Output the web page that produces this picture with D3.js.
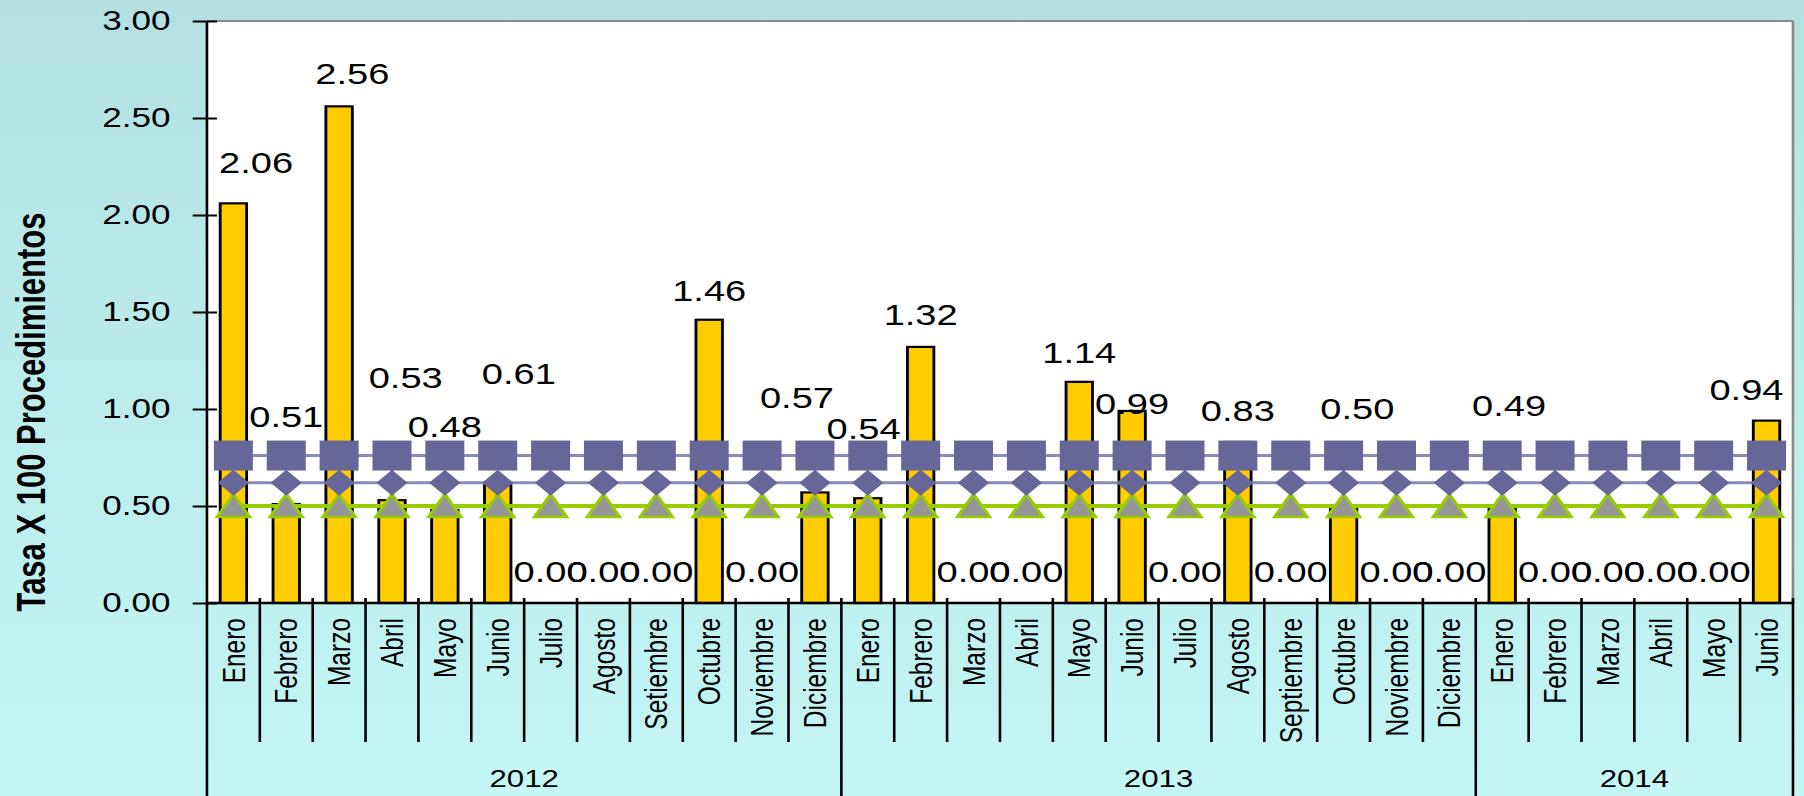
<!DOCTYPE html>
<html><head><meta charset="utf-8">
<script src="https://cdn.jsdelivr.net/npm/d3@7"></script>
<style>html,body{margin:0;padding:0;background:#bde9e9;} svg{display:block;}</style>
</head><body>
<svg id="c" width="1804" height="796"></svg>
<script>
// ---------- data ----------
const months = ["Enero","Febrero","Marzo","Abril","Mayo","Junio","Julio","Agosto","Setiembre","Octubre","Noviembre","Diciembre",
  "Enero","Febrero","Marzo","Abril","Mayo","Junio","Julio","Agosto","Septiembre","Octubre","Noviembre","Diciembre",
  "Enero","Febrero","Marzo","Abril","Mayo","Junio"];
const yearLabels = ["2012","2013","2014"];
const monthsPerYear = [12,12,6];
const rateValues = [2.06,0.51,2.56,0.53,0.48,0.61,0.00,0.00,0.00,1.46,0.00,0.57,
  0.54,1.32,0.00,0.00,1.14,0.99,0.00,0.83,0.00,0.50,0.00,0.00,
  0.49,0.00,0.00,0.00,0.00,0.94];
const squareValues = [0.76,0.76,0.76,0.76,0.76,0.76,0.76,0.76,0.76,0.76,0.76,0.76,
  0.76,0.76,0.76,0.76,0.76,0.76,0.76,0.76,0.76,0.76,0.76,0.76,
  0.76,0.76,0.76,0.76,0.76,0.76];
const diamondValues = [0.62,0.62,0.62,0.62,0.62,0.62,0.62,0.62,0.62,0.62,0.62,0.62,
  0.62,0.62,0.62,0.62,0.62,0.62,0.62,0.62,0.62,0.62,0.62,0.62,
  0.62,0.62,0.62,0.62,0.62,0.62];
const triangleValues = [0.50,0.50,0.50,0.50,0.50,0.50,0.50,0.50,0.50,0.50,0.50,0.50,
  0.50,0.50,0.50,0.50,0.50,0.50,0.50,0.50,0.50,0.50,0.50,0.50,
  0.50,0.50,0.50,0.50,0.50,0.50];
// data-label anchors (value units / band fractions)
const labelAt = [2.27,0.96,2.73,1.165,0.91,1.185,0.16,0.16,0.16,1.61,0.16,1.06,
  0.90,1.485,0.16,0.16,1.29,1.03,0.16,0.995,0.16,1.005,0.16,0.16,
  1.02,0.16,0.16,0.16,0.16,1.10];
const labelShift = [0.43,0,0.25,0.26,0,0.40,0,0,0,0,0,-0.34,
  -0.08,0,0,0,0,0,0,0,0,0.26,0,0,
  0.13,0,0,0,0,-0.38];
const yTicks = [0,0.5,1,1.5,2,2.5,3];
const yTitle = "Tasa X 100 Procedimientos";

// ---------- layout ----------
const SX = 1.3;              // horizontal stretch of the whole picture
const H = 796;
const pL = 159.2, pR = 1379.2, pT = 21, pB = 603;
const svg = d3.select("#c");

const defs = svg.append("defs");
const grad = defs.append("linearGradient").attr("id","bg").attr("x1",0).attr("y1",0).attr("x2",0).attr("y2",1);
grad.append("stop").attr("offset","0%").attr("stop-color","#b3e1e1");
grad.append("stop").attr("offset","100%").attr("stop-color","#c4f6f6");
svg.append("rect").attr("width",1804).attr("height",H).attr("fill","url(#bg)");

const g = svg.append("g").attr("transform",`scale(${SX},1)`);

const x = d3.scaleBand().domain(d3.range(months.length)).range([pL,pR]).paddingInner(0).paddingOuter(0);
const y = d3.scaleLinear().domain([0,3]).range([pB,pT]);
const cx = i => x(i) + x.bandwidth()/2;
const FONT = "'Liberation Sans', Arial, sans-serif";
const labelFont = x.bandwidth() / 1.39;   // so that neighbouring "0.00" labels overlap digit-on-digit

// plot area
g.append("rect").attr("x",pL).attr("y",pT).attr("width",pR-pL).attr("height",pB-pT).attr("fill","#fff");
g.append("line").attr("x1",pL).attr("x2",pR).attr("y1",pT).attr("y2",pT).attr("stroke","#888").attr("stroke-width",2);
g.append("line").attr("x1",pR).attr("x2",pR).attr("y1",pT).attr("y2",pB).attr("stroke","#888").attr("stroke-width",2);

// bars
const bw = x.bandwidth()*0.5;
g.append("g").selectAll("rect").data(rateValues).join("rect")
  .attr("x",(d,i)=>cx(i)-bw/2).attr("width",bw)
  .attr("y",d=>y(d)).attr("height",d=>y(0)-y(d))
  .attr("fill","#ffcc00").attr("stroke","#000").attr("stroke-width",2.2)
  .attr("display",d=>d>0?null:"none");

// lines
const lineGen = vals => d3.line().x((d,i)=>cx(i)).y(d=>y(d))(vals);
g.append("path").attr("d",lineGen(triangleValues)).attr("fill","none").attr("stroke","#99cc00").attr("stroke-width",4);
g.append("path").attr("d",lineGen(diamondValues)).attr("fill","none").attr("stroke","#8a8abb").attr("stroke-width",3);
g.append("path").attr("d",lineGen(squareValues)).attr("fill","none").attr("stroke","#8a8abb").attr("stroke-width",3);

// markers
g.append("g").selectAll("path").data(triangleValues).join("path")
  .attr("d","M0,-12L12.5,11L-12.5,11Z")
  .attr("transform",(d,i)=>`translate(${cx(i)},${y(d)})`)
  .attr("fill","#969696").attr("stroke","#99cc00").attr("stroke-width",2.5);
g.append("g").selectAll("path").data(diamondValues).join("path")
  .attr("d","M0,-13L12,0L0,13L-12,0Z")
  .attr("transform",(d,i)=>`translate(${cx(i)},${y(d)})`)
  .attr("fill","#666699");
g.append("g").selectAll("rect").data(squareValues).join("rect")
  .attr("x",(d,i)=>cx(i)-15).attr("y",d=>y(d)-15).attr("width",30).attr("height",30)
  .attr("fill","#666699");

// data labels
g.append("g").selectAll("text").data(rateValues).join("text")
  .attr("x",(d,i)=>cx(i)+labelShift[i]*x.bandwidth())
  .attr("y",(d,i)=>y(labelAt[i])).attr("dy","0.36em")
  .attr("text-anchor","middle")
  .attr("font-family",FONT).attr("font-size",labelFont).attr("fill","#000")
  .text(d=>d3.format(".2f")(d));

// y axis
const yAxis = g.append("g").attr("transform",`translate(${pL},0)`)
  .call(d3.axisLeft(y).tickValues(yTicks).tickFormat(d3.format(".2f")).tickSizeInner(11).tickSizeOuter(0).tickPadding(17));
yAxis.select(".domain").remove();
yAxis.selectAll(".tick line").attr("x1",7.7).attr("stroke","#000").attr("stroke-width",2);
yAxis.selectAll(".tick text").attr("font-family",FONT).attr("font-size",27).attr("fill","#000");
g.append("line").attr("x1",pL).attr("x2",pL).attr("y1",pT).attr("y2",H).attr("stroke","#000").attr("stroke-width",2);

// x axis (months)
const xAxis = g.append("g").attr("transform",`translate(0,${pB})`)
  .call(d3.axisBottom(x).tickFormat(i=>months[i]).tickSize(0).tickPadding(0));
xAxis.select(".domain").remove();
xAxis.selectAll(".tick text")
  .attr("transform","translate(0,15) rotate(-90)")
  .attr("text-anchor","end").attr("dy","0.35em").attr("y",0).attr("x",0)
  .attr("font-family",FONT).attr("font-size",24.5).attr("fill","#000");
g.append("line").attr("x1",pL).attr("x2",pR+1).attr("y1",pB).attr("y2",pB).attr("stroke","#000").attr("stroke-width",2.5);

// separators
const yearStarts = [];
let acc = 0;
monthsPerYear.forEach(n=>{ yearStarts.push(acc); acc += n; });
const boundaries = d3.range(1, months.length+1);
g.append("g").selectAll("line").data(boundaries).join("line")
  .attr("x1",i=> i===months.length ? pR : x(i)).attr("x2",i=> i===months.length ? pR : x(i))
  .attr("y1",pB-5)
  .attr("y2",i=> (yearStarts.includes(i) || i===months.length) ? H : 742)
  .attr("stroke","#000").attr("stroke-width",2);

// year labels
g.append("g").selectAll("text").data(yearLabels).join("text")
  .attr("x",(d,k)=>{ const s = yearStarts[k], e = s + monthsPerYear[k]; const a = x(s), b = e>=months.length ? pR : x(e); return (a+b)/2; })
  .attr("y",779).attr("dy","0.35em").attr("text-anchor","middle")
  .attr("font-family",FONT).attr("font-size",24).attr("fill","#000")
  .text(d=>d);

// y title
g.append("text").attr("transform",`translate(24,412) rotate(-90)`)
  .attr("text-anchor","middle").attr("dy","0.35em")
  .attr("font-family",FONT).attr("font-weight","bold").attr("font-size",31).attr("fill","#000")
  .text(yTitle);
</script>
</body></html>
